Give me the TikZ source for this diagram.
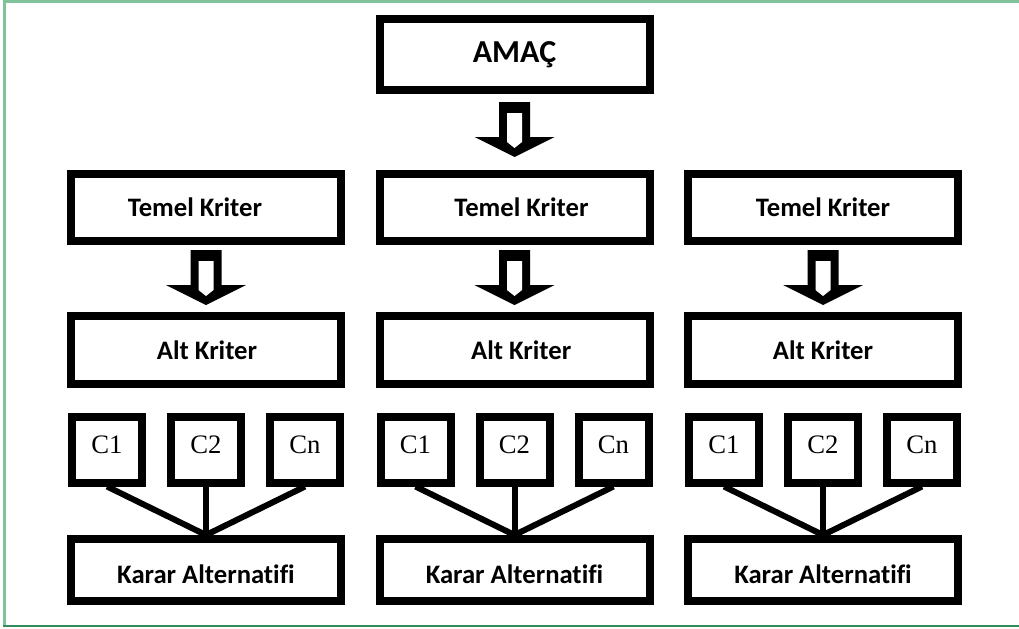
\documentclass[tikz,border=0pt]{standalone}
\usepackage{fontspec}
\setmainfont{Carlito}[Ligatures=CommonOff]
\newfontfamily\serifC{Liberation Serif}
\definecolor{frametop}{RGB}{128,194,154}
\definecolor{framebot}{RGB}{52,140,88}
\newcommand\shiftedtext[2]{\ifdim#1>0pt\hspace*{#1}\hspace*{#1}#2\else#2\hspace*{-#1}\hspace*{-#1}\fi}
\tikzset{
  bigbox/.style={draw=black, fill=white, line width=6pt, minimum width=202.5pt, inner sep=0pt,
    font=\bfseries\fontsize{20}{24}\selectfont},
  cbox/.style={draw=black, fill=white, line width=6pt, minimum width=52.5pt, minimum height=49.5pt,
    inner sep=0pt, text depth=7pt, font=\serifC\fontsize{20}{24}\selectfont},
  link/.style={draw=black, line width=4.5pt},
  blockarrow/.pic={
    \fill[black] (-15.5,-55) -- (15.5,-55) -- (15.5,-20) -- (40,-20) -- (0,0) -- (-40,-20) -- (-15.5,-20) -- cycle;
    \fill[white] (-7.5,-44) -- (7.5,-44) -- (7.5,-15) -- (0,-9) -- (-7.5,-15) -- cycle;
  }
}
\begin{document}
\begin{tikzpicture}[x=0.75pt, y=-0.75pt]
\useasboundingbox (0,0) rectangle (1019,628);
\fill[white] (0,0) rectangle (1019,628);
% frame
\draw[line width=2.25pt, frametop] (4,1.5) -- (1019,1.5);
\draw[line width=1.7pt, frametop] (4.5,0) -- (4.5,626);
\draw[line width=1.5pt, framebot] (3,625.5) -- (1019,625.5);

% top
\node[bigbox, minimum height=53.25pt, font=\bfseries\fontsize{24}{28}\selectfont] (goal) at (514.5,54.5) {AMAÇ};
\pic at (514.5,157) {blockarrow};

% columns
\foreach \i/\x/\ta/\tb in {1/206/-8.25pt/0.75pt, 2/514.5/5.25pt/5pt, 3/823/0pt/0pt} {
  \node[bigbox, minimum height=50.25pt] (tk\i) at (\x,207.5) {\shiftedtext{\ta}{Temel Kriter}};
  \pic at (\x,305) {blockarrow};
  \node[bigbox, minimum height=51pt] (ak\i) at (\x,350) {\shiftedtext{\tb}{Alt Kriter}};
  \node[bigbox, minimum height=46.5pt, text height=20pt, text depth=0pt] (ka\i) at (\x,570) {Karar Alternatifi};
  \node[cbox] (ca\i) at (\x-99,449.5) {C1};
  \node[cbox] (cb\i) at (\x,449.5) {C2};
  \node[cbox] (cc\i) at (\x+99,449.5) {Cn};
}
\foreach \i in {1,2,3} {
  \draw[link] (ca\i.south) -- (ka\i.north);
  \draw[link] (cb\i.south) -- (ka\i.north);
  \draw[link] (cc\i.south) -- (ka\i.north);
}
\end{tikzpicture}
\end{document}
